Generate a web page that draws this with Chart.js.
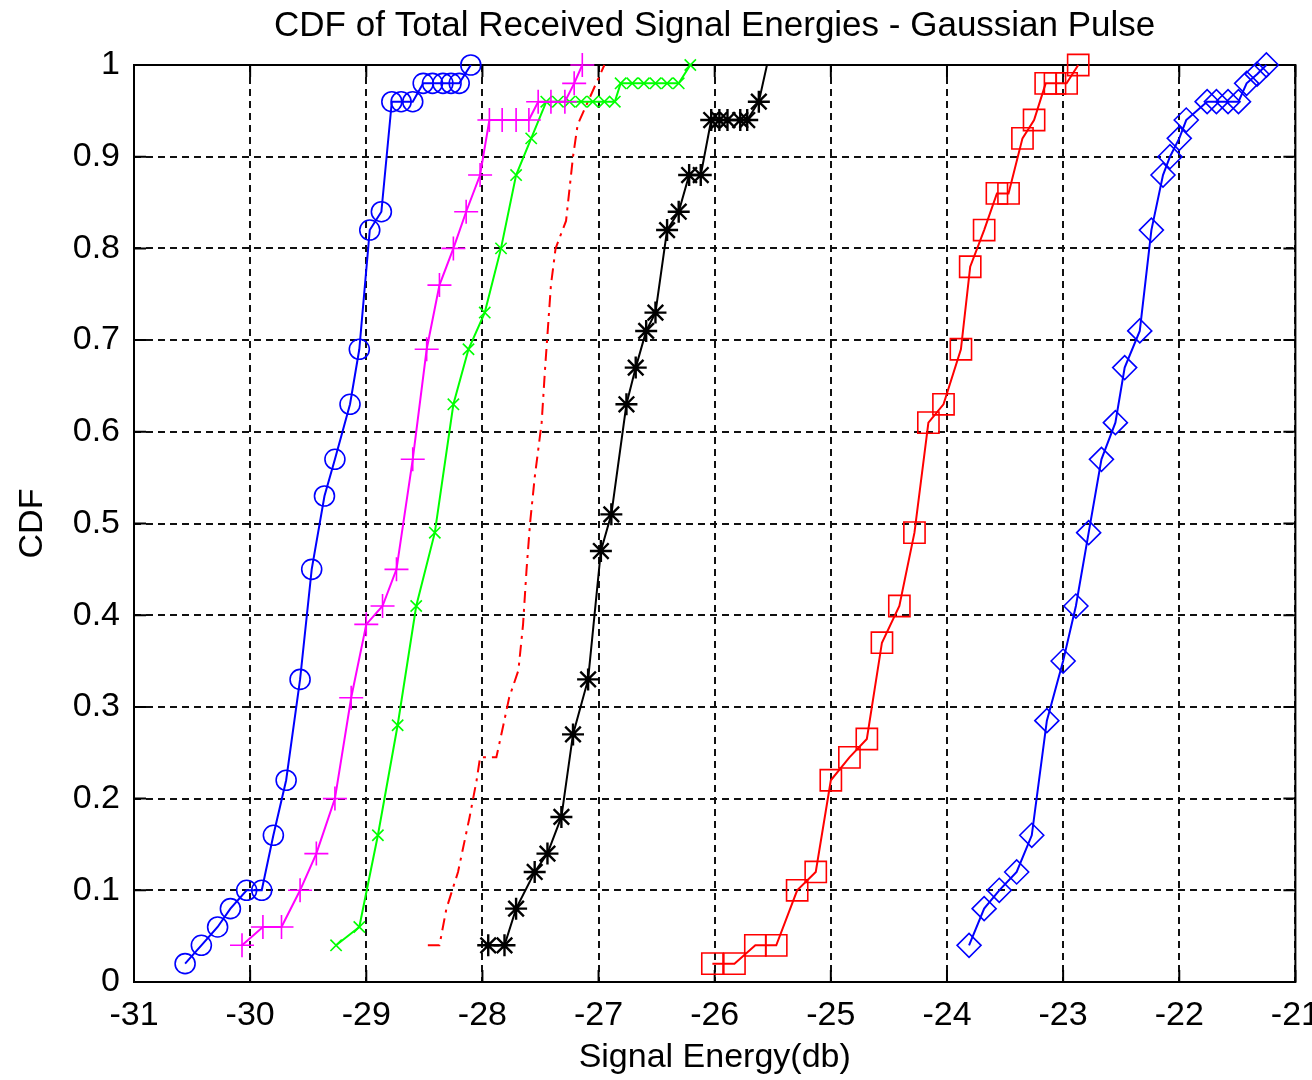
<!DOCTYPE html>
<html>
<head>
<meta charset="utf-8">
<script src="https://cdn.jsdelivr.net/npm/chart.js@4.4.1/dist/chart.umd.min.js"></script>
<style>
  body { margin: 0; background: #fff; }
  #wrap { width: 1312px; height: 1080px; }
</style>
</head>
<body>
<div id="wrap"><canvas id="grafico" width="1312" height="1080"></canvas></div>
<script>
// tick labels
var xTickLabels = ['-31','-30','-29','-28','-27','-26','-25','-24','-23','-22','-21'];
var yTickLabels = ['0','0.1','0.2','0.3','0.4','0.5','0.6','0.7','0.8','0.9','1'];

// blue, circles
var circX = [-30.56,-30.42,-30.28,-30.17,-30.03,-29.90,-29.80,-29.69,-29.57,-29.47,-29.36,-29.27,-29.14,-29.06,-28.97,-28.87,-28.78,-28.70,-28.60,-28.51,-28.43,-28.34,-28.27,-28.20,-28.10];
var circY = [0.02,0.04,0.06,0.08,0.10,0.10,0.16,0.22,0.33,0.45,0.53,0.57,0.63,0.69,0.82,0.84,0.96,0.96,0.96,0.98,0.98,0.98,0.98,0.98,1.0];

// magenta, plus
var plusX = [-30.07,-29.89,-29.73,-29.57,-29.43,-29.27,-29.13,-29.00,-28.86,-28.74,-28.60,-28.48,-28.37,-28.25,-28.14,-28.02,-27.94,-27.83,-27.71,-27.60,-27.52,-27.41,-27.29,-27.21,-27.14];
var plusY = [0.04,0.06,0.06,0.10,0.14,0.20,0.31,0.39,0.41,0.45,0.57,0.69,0.76,0.80,0.84,0.88,0.94,0.94,0.94,0.94,0.96,0.96,0.96,0.98,1.0];

// green, x
var crossX = [-29.26,-29.06,-28.90,-28.73,-28.57,-28.41,-28.25,-28.12,-27.98,-27.84,-27.71,-27.58,-27.45,-27.35,-27.25,-27.15,-27.05,-26.95,-26.86,-26.81,-26.71,-26.61,-26.51,-26.41,-26.31,-26.21];
var crossY = [0.04,0.06,0.16,0.28,0.41,0.49,0.63,0.69,0.73,0.80,0.88,0.92,0.96,0.96,0.96,0.96,0.96,0.96,0.96,0.98,0.98,0.98,0.98,0.98,0.98,1.0];

// red, dash-dot, no markers
var dashX = [-28.47,-28.37,-28.31,-28.21,-28.11,-28.05,-28.02,-27.88,-27.82,-27.77,-27.69,-27.65,-27.62,-27.59,-27.55,-27.49,-27.46,-27.41,-27.37,-27.28,-27.22,-27.18,-26.95];
var dashY = [0.04,0.04,0.08,0.12,0.18,0.22,0.245,0.245,0.28,0.31,0.34,0.39,0.45,0.50,0.55,0.61,0.67,0.76,0.80,0.83,0.90,0.935,1.0];

// black, stars
var starX = [-27.95,-27.81,-27.71,-27.55,-27.44,-27.32,-27.22,-27.09,-26.98,-26.89,-26.76,-26.68,-26.59,-26.51,-26.41,-26.31,-26.22,-26.12,-26.03,-25.96,-25.89,-25.78,-25.72,-25.62,-25.55];
var starY = [0.04,0.04,0.08,0.12,0.14,0.18,0.27,0.33,0.47,0.51,0.63,0.67,0.71,0.73,0.82,0.84,0.88,0.88,0.94,0.94,0.94,0.94,0.94,0.96,1.0];

// red, squares
var sqX = [-26.02,-25.83,-25.65,-25.47,-25.29,-25.13,-25.00,-24.84,-24.69,-24.56,-24.41,-24.28,-24.16,-24.03,-23.88,-23.80,-23.68,-23.57,-23.47,-23.35,-23.25,-23.15,-23.07,-22.97,-22.87];
var sqY = [0.02,0.02,0.04,0.04,0.10,0.12,0.22,0.245,0.265,0.37,0.41,0.49,0.61,0.63,0.69,0.78,0.82,0.86,0.86,0.92,0.94,0.98,0.98,0.98,1.0];

// blue, diamonds
var diaX = [-23.81,-23.68,-23.55,-23.40,-23.27,-23.14,-23.00,-22.89,-22.78,-22.67,-22.55,-22.47,-22.34,-22.24,-22.14,-22.08,-22.00,-21.94,-21.76,-21.68,-21.58,-21.49,-21.42,-21.33,-21.25];
var diaY = [0.04,0.08,0.10,0.12,0.16,0.285,0.35,0.41,0.49,0.57,0.61,0.67,0.71,0.82,0.88,0.90,0.92,0.94,0.96,0.96,0.96,0.96,0.98,0.99,1.0];

var pts = function(xs, ys) {
  return xs.map(function(x, i) { return {x: x, y: ys[i]}; });
};

var serie = function(xs, ys, color, style, radius) {
  return {
    data: pts(xs, ys),
    showLine: true,
    borderColor: color,
    backgroundColor: 'rgba(0,0,0,0)',
    borderWidth: 2,
    pointStyle: style,
    pointRadius: radius,
    pointBorderColor: color,
    pointBackgroundColor: 'rgba(0,0,0,0)',
    pointBorderWidth: 1.6,
    clip: false
  };
};

// last black point has no marker
var starRadius = starX.map(function(v, i) { return i == starX.length - 1 ? 0 : 11; });
var black = serie(starX, starY, '#000000', 'star', 11);
black.pointRadius = starRadius;
black.pointBorderWidth = 2.4;

var dashed = serie(dashX, dashY, '#ff0000', 'circle', 0);
dashed.borderDash = [12, 6, 3, 6];

// axes box + inward ticks like matlab
var caixa = {
  id: 'caixa',
  beforeDatasetsDraw: function(chart) {
    var a = chart.chartArea, ctx = chart.ctx;
    var sx = chart.scales.x, sy = chart.scales.y;
    ctx.save();
    ctx.strokeStyle = '#000';
    ctx.lineWidth = 2;
    ctx.setLineDash([]);
    ctx.strokeRect(a.left, a.top, a.right - a.left, a.bottom - a.top);
    ctx.beginPath();
    sx.ticks.forEach(function(t) {
      var p = sx.getPixelForValue(t.value);
      ctx.moveTo(p, a.bottom); ctx.lineTo(p, a.bottom - 12);
      ctx.moveTo(p, a.top); ctx.lineTo(p, a.top + 12);
    });
    sy.ticks.forEach(function(t) {
      var p = sy.getPixelForValue(t.value);
      ctx.moveTo(a.left, p); ctx.lineTo(a.left + 12, p);
      ctx.moveTo(a.right, p); ctx.lineTo(a.right - 12, p);
    });
    ctx.stroke();
    ctx.restore();
  }
};

Chart.defaults.font.family = '"Liberation Sans", Arial, sans-serif';
Chart.defaults.color = '#000';

new Chart(document.getElementById('grafico'), {
  type: 'scatter',
  data: {
    datasets: [
      serie(circX, circY, '#0000ff', 'circle', 10),
      serie(plusX, plusY, '#ff00ff', 'cross', 12),
      serie(crossX, crossY, '#00ff00', 'crossRot', 8),
      dashed,
      black,
      serie(sqX, sqY, '#ff0000', 'rect', 15),
      serie(diaX, diaY, '#0000ff', 'rectRot', 12)
    ]
  },
  options: {
    responsive: false,
    animation: false,
    layout: { padding: { left: 0, right: 15, top: 0, bottom: 0 } },
    plugins: {
      legend: { display: false },
      tooltip: { enabled: false },
      title: {
        display: true,
        fullSize: false,
        text: 'CDF of Total Received Signal Energies - Gaussian Pulse',
        font: { size: 35, weight: 'normal' },
        color: '#000',
        padding: { top: 5, bottom: 18 }
      }
    },
    scales: {
      x: {
        type: 'linear',
        min: -31,
        max: -21,
        ticks: {
          stepSize: 1,
          autoSkip: false,
          maxRotation: 0,
          font: { size: 34 },
          padding: 13,
          callback: function(v, i) { return xTickLabels[i]; }
        },
        grid: { color: '#111', lineWidth: 2, drawTicks: false },
        border: { display: false, dash: [7, 5] },
        title: {
          display: true,
          text: 'Signal Energy(db)',
          font: { size: 34 },
          padding: { top: 0, bottom: 2 }
        },
        afterFit: function(s) { s.height = 98; s.paddingLeft = 0; s.paddingRight = 0; }
      },
      y: {
        type: 'linear',
        min: 0,
        max: 1,
        ticks: {
          stepSize: 0.1,
          autoSkip: false,
          font: { size: 34 },
          padding: 14,
          callback: function(v, i) { return yTickLabels[i]; }
        },
        grid: { color: '#111', lineWidth: 2, drawTicks: false },
        border: { display: false, dash: [7, 5] },
        title: {
          display: true,
          text: 'CDF',
          font: { size: 34 },
          padding: { top: 12, bottom: 0 }
        },
        afterFit: function(s) { s.width = 134; s.paddingTop = 0; s.paddingBottom = 0; }
      }
    }
  },
  plugins: [caixa]
});
</script>
</body>
</html>
